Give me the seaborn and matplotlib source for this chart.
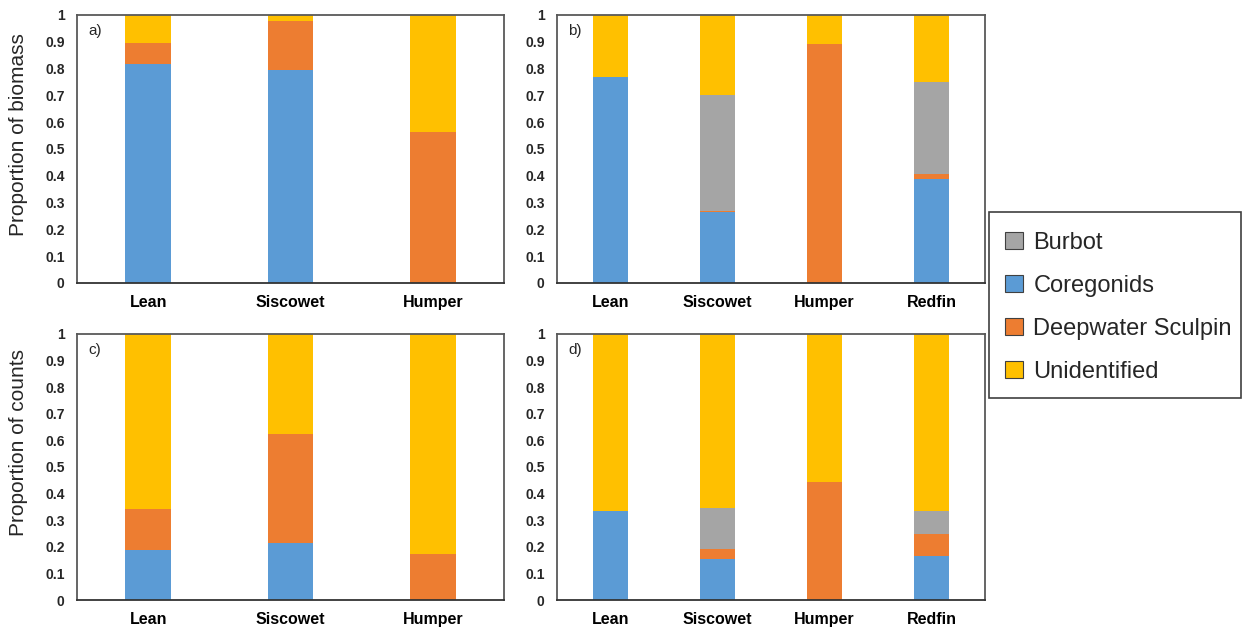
import numpy as np
import pandas as pd
import matplotlib
matplotlib.use("Agg")
import matplotlib.pyplot as plt
from matplotlib.patches import Patch, Rectangle
import seaborn as sns

sns.set_theme(style="white")
plt.rcParams["font.family"] = ["Liberation Sans", "DejaVu Sans"]

# Prey groups (stacked bottom to top) and their colours
groups = ["Coregonids", "Deepwater Sculpin", "Burbot", "Unidentified"]
legend_order = ["Burbot", "Coregonids", "Deepwater Sculpin", "Unidentified"]
colors = {
    "Burbot": "#A5A5A5",
    "Coregonids": "#5B9BD5",
    "Deepwater Sculpin": "#ED7D31",
    "Unidentified": "#FFC000",
}

predators_3 = ["Lean", "Siscowet", "Humper"]
predators_4 = ["Lean", "Siscowet", "Humper", "Redfin"]

# a) proportion of biomass, 3 morphotypes
a_coregonids = [0.816, 0.793, 0.0]
a_sculpin = [0.081, 0.183, 0.563]
a_burbot = [0.0, 0.0, 0.0]
a_unidentified = [0.103, 0.024, 0.437]

# b) proportion of biomass, 4 morphotypes
b_coregonids = [0.770, 0.264, 0.0, 0.389]
b_sculpin = [0.0, 0.006, 0.890, 0.017]
b_burbot = [0.0, 0.430, 0.0, 0.344]
b_unidentified = [0.230, 0.300, 0.110, 0.250]

# c) proportion of counts, 3 morphotypes
c_coregonids = [0.189, 0.216, 0.0]
c_sculpin = [0.153, 0.408, 0.172]
c_burbot = [0.0, 0.0, 0.0]
c_unidentified = [0.658, 0.376, 0.828]

# d) proportion of counts, 4 morphotypes
d_coregonids = [0.333, 0.154, 0.0, 0.167]
d_sculpin = [0.0, 0.038, 0.442, 0.083]
d_burbot = [0.0, 0.154, 0.0, 0.083]
d_unidentified = [0.667, 0.654, 0.558, 0.667]

panels = [
    ("a)", predators_3, [a_coregonids, a_sculpin, a_burbot, a_unidentified]),
    ("b)", predators_4, [b_coregonids, b_sculpin, b_burbot, b_unidentified]),
    ("c)", predators_3, [c_coregonids, c_sculpin, c_burbot, c_unidentified]),
    ("d)", predators_4, [d_coregonids, d_sculpin, d_burbot, d_unidentified]),
]

W, H = 1244, 630
fig = plt.figure(figsize=(W / 100, H / 100), dpi=100)


def rect(x0, y0, x1, y1):
    return [x0 / W, 1 - y1 / H, (x1 - x0) / W, (y1 - y0) / H]


boxes = [
    rect(77, 15, 504, 283),
    rect(557, 15, 985, 283),
    rect(77, 334, 504, 600),
    rect(557, 334, 985, 600),
]

frame_color = "#595959"

for (tag, cats, series), box in zip(panels, boxes):
    ax = fig.add_axes(box)
    df = pd.DataFrame({"predator": cats})
    for name, vals in zip(groups, series):
        df[name] = vals
    # cumulative tops, drawn from the top layer down so lower layers overlay
    cum = df[groups].cumsum(axis=1)
    for name in reversed(groups):
        sns.barplot(
            data=pd.DataFrame({"predator": cats, "top": cum[name].values}),
            x="predator", y="top", color=colors[name], saturation=1,
            width=0.32, ax=ax, linewidth=0, edgecolor="none",
        )
    ax.set_ylim(0, 1)
    ax.set_xlim(-0.5, len(cats) - 0.5)
    ax.set_yticks(np.round(np.arange(0, 1.01, 0.1), 1))
    ax.set_yticklabels(["0"] + [f"{v:.1f}" for v in np.arange(0.1, 0.95, 0.1)] + ["1"])
    ax.set_xlabel("")
    ax.set_ylabel("")
    ax.tick_params(axis="y", length=0, pad=9, labelsize=10, labelcolor="#262626")
    ax.tick_params(axis="x", length=0, pad=17.3, labelsize=11.5, labelcolor="#000000")
    for lab in ax.get_yticklabels():
        lab.set_fontweight("bold")
    for lab in ax.get_xticklabels():
        lab.set_fontweight("bold")
        lab.set_verticalalignment("baseline")
    for side, sp in ax.spines.items():
        sp.set_visible(True)
        sp.set_color(frame_color)
        sp.set_linewidth(1.3)
    ax.spines["bottom"].set_color("#333333")
    ax.text(0.026, 0.94, tag, transform=ax.transAxes, fontsize=11,
            color="#262626", ha="left", va="center")

fig.text(19 / W, 1 - 135 / H, "Proportion of biomass", rotation=90,
         ha="center", va="center", fontsize=15, color="#262626")
fig.text(19 / W, 1 - 443 / H, "Proportion of counts", rotation=90,
         ha="center", va="center", fontsize=15, color="#262626")

# Legend box drawn as a plain rectangle, entries placed inside it
fig.add_artist(Rectangle((989 / W, 1 - 398 / H), 252 / W, 186 / H,
                         transform=fig.transFigure, facecolor="white",
                         edgecolor="#404040", linewidth=1.2, zorder=1))
handles = [Patch(facecolor=colors[n], edgecolor="#404040", linewidth=0.8)
           for n in legend_order]
leg = fig.legend(
    handles, legend_order, loc="upper left",
    bbox_to_anchor=(1005 / W, 1 - 232 / H), bbox_transform=fig.transFigure,
    fontsize=17, frameon=False, borderpad=0,
    labelspacing=0.89, handlelength=0.75, handleheight=0.75,
    handletextpad=0.45, borderaxespad=0,
)
leg.set_zorder(2)
for t in leg.get_texts():
    t.set_color("#262626")

fig.savefig("out.png", dpi=100, facecolor="white")
